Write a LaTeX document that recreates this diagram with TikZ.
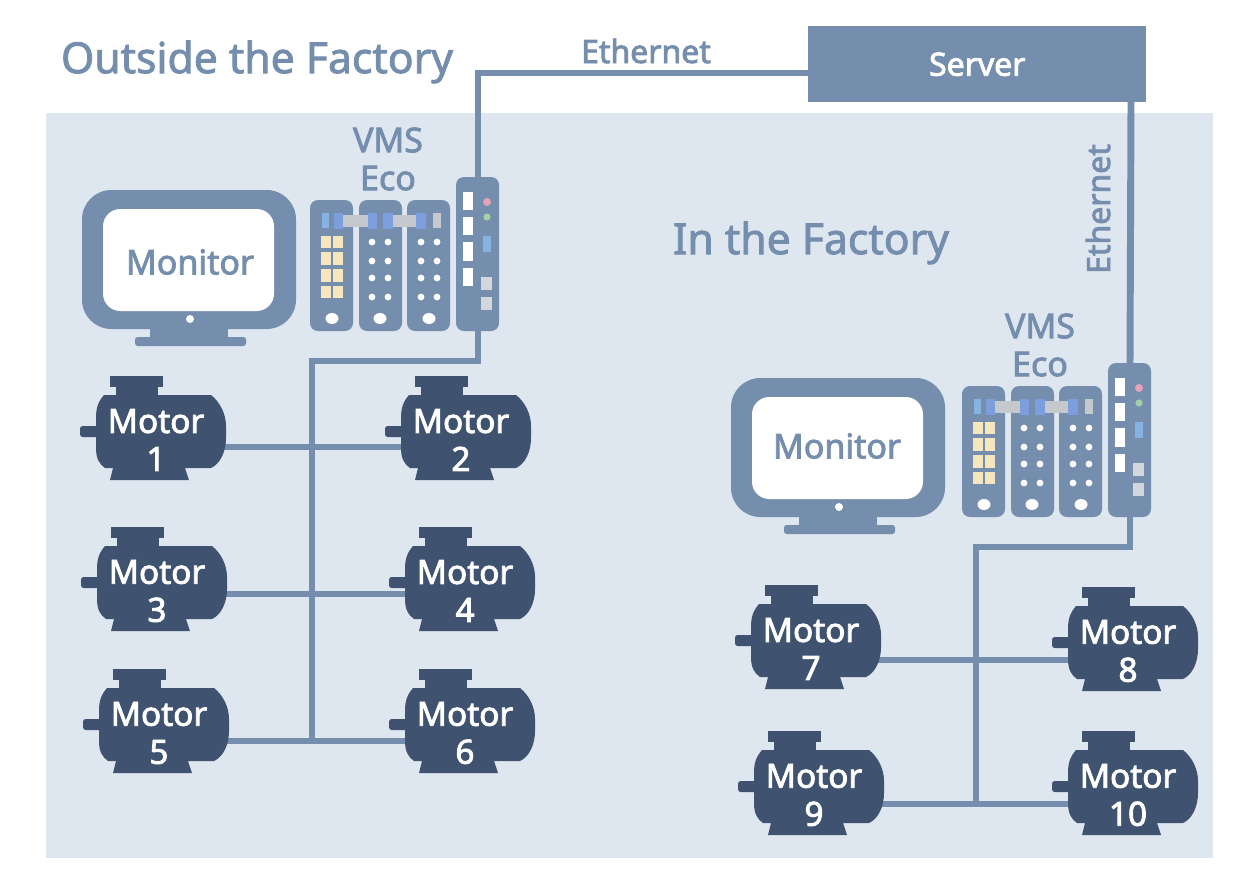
\documentclass[tikz,border=0pt]{standalone}
\usepackage{fontspec}
\setmainfont{Noto Sans}
\usetikzlibrary{calc}
\definecolor{panelc}{HTML}{DEE6F0}
\definecolor{steel}{HTML}{758EAD}
\definecolor{motorc}{HTML}{3F5370}
\definecolor{lblue}{HTML}{87B3E2}
\definecolor{mblue}{HTML}{7D9EDD}
\definecolor{greyc}{HTML}{C5C9CE}
\definecolor{lgrey}{HTML}{D3D7DD}
\definecolor{creamc}{HTML}{F6E6BF}
\definecolor{pinkc}{HTML}{E6A2B6}
\definecolor{greenc}{HTML}{A3D1A6}
\pgfdeclarelayer{panel}
\pgfdeclarelayer{wires}
\pgfsetlayers{panel,wires,main}
\tikzset{
  wire/.style={draw=steel,line width=5.2pt,line join=miter},
  medium/.style={execute at begin node={\special{pdf:code 2 Tr 0.62 w}},execute at end node={\special{pdf:code 0 Tr}}},
  titletext/.style={medium,text=steel,inner sep=0pt,font=\fontsize{#1}{#1}\selectfont},
  plainlabel/.style={medium,text=steel,inner sep=0pt,align=center,font=\fontsize{#1}{28.5}\selectfont},
  motortext/.style={medium,text=white,inner sep=0pt,align=center,font=\fontsize{25}{28.5}\selectfont},
  pics/motor/.style n args={2}{code={
    \fill[motorc,rounded corners=2pt] (0,50) rectangle (24,61);
    \fill[motorc] (30,0) rectangle (83,11);
    \fill[motorc] (36,11) rectangle (78,22);
    \fill[motorc] (24,19)
      .. controls (18,26) and (16,32) .. (16,42) -- (16,72)
      .. controls (16,82) and (19,88) .. (25,92)
      -- (33,92) -- (30,104) -- (109,104) -- (105,92) -- (131,92)
      .. controls (140,88) and (146,76) .. (146,62)
      -- (146,50) .. controls (146,38) and (140,26) .. (131,19) -- cycle;
    \coordinate (-l) at (30,#2);
    \coordinate (-r) at (140,#2);
    \node[motortext] (-t) at (76,64) {Motor\\#1};
  }},
  pics/monitor/.style n args={2}{code={
    \fill[steel,rounded corners=2pt] (135,337) rectangle (246,346);
    \fill[steel] (150,325) rectangle (228,346);
    \fill[steel,rounded corners=22pt] (82,190) rectangle (296,329);
    \fill[white,rounded corners=13pt] (103,209) rectangle (274,311);
    \fill[white] (190,319) circle[radius=4];
    \node[titletext=25.5] (-t) at (#1,#2) {Monitor};
  }},
  pics/vms/.style={code={
    \fill[steel,rounded corners=6pt] (310,200) rectangle (353,331);
    \fill[steel,rounded corners=6pt] (359,200) rectangle (402,331);
    \fill[steel,rounded corners=6pt] (407,200) rectangle (450,331);
    \fill[steel,rounded corners=6pt] (456,177) rectangle (499,331);
    \fill[lblue] (322,213) rectangle (329,228);
    \fill[mblue] (334,213) rectangle (343,229);
    \fill[mblue] (368,213) rectangle (377,229);
    \fill[mblue] (383,213) rectangle (393,229);
    \fill[mblue] (416,213) rectangle (426,229);
    \fill[greyc] (343,215) rectangle (368,227);
    \fill[greyc] (393,215) rectangle (416,227);
    \fill[greyc] (433,213) rectangle (441,228);
    \foreach \cx in {321,333} \foreach \ry/\rb in {236/248,252/265,269/282,286/298}
      \fill[creamc] (\cx,\ry) rectangle (\cx+10,\rb);
    \foreach \cx in {372,388,421,437} \foreach \ry in {242,261,278,297}
      \fill[white] (\cx,\ry) circle[radius=3.4];
    \foreach \cx in {332,380,429}
      \fill[white] (\cx,318.5) ellipse[x radius=6.5,y radius=5.5];
    \foreach \ry/\rb in {192/210,217/235,242/261,268/286}
      \fill[white] (463,\ry) rectangle (473,\rb);
    \fill[pinkc] (487,202) circle[radius=4];
    \fill[greenc] (487,217) circle[radius=3.6];
    \fill[lblue] (483,236) rectangle (491,252);
    \fill[lgrey] (481,277) rectangle (492,290);
    \fill[lgrey] (481,297) rectangle (492,310);
    \coordinate (-top) at (478,177);
    \coordinate (-bot) at (478,331);
    \node[plainlabel=25.5] (-t) at (388,159) {VMS\\Eco};
  }}
}
\begin{document}
\begin{tikzpicture}[x=0.75pt,y=-0.75pt]
\useasboundingbox (0,0) rectangle (1252,871);
\begin{pgfonlayer}{panel}
\fill[white] (0,0) rectangle (1252,871);
\fill[panelc] (46,113) rectangle (1213,858);
\end{pgfonlayer}

\node[medium,fill=steel,minimum width=253.5pt,minimum height=57pt,inner sep=0pt,anchor=north west,text=white,font=\fontsize{24}{28}\selectfont] (server) at (808,26) {Server};
\node[titletext=32,anchor=center] (outside) at (257,62) {Outside the Factory};
\node[titletext=32,anchor=center] (inside) at (811,243) {In the Factory};
\node[titletext=24] (eth1) at (646,51) {Ethernet};
\node[titletext=24,rotate=90] (eth2) at (1098,209) {Ethernet};

\pic (monA) at (0,0) {monitor={190}{262}};
\pic (monB) at (649,188) {monitor={188}{258}};
\pic (vmsA) at (0,0) {vms};
\pic (vmsB) at (652,186) {vms};

\pic (m1) at (80,376) {motor={1}{71}};
\pic (m2) at (385,376) {motor={2}{71}};
\pic (m3) at (81,527) {motor={3}{67}};
\pic (m4) at (389,527) {motor={4}{67}};
\pic (m5) at (83,669) {motor={5}{72}};
\pic (m6) at (389,669) {motor={6}{72}};
\pic (m7) at (735,585) {motor={7}{75}};
\pic (m8) at (1052,587) {motor={8}{73}};
\pic (m9) at (738,731) {motor={9}{73}};
\pic (m10) at (1052,731) {motor={10}{73}};

\coordinate (srvL) at (808,73);
\coordinate (srvB) at (1131,102);
\coordinate (busA) at (312,361);
\coordinate (busB) at (976,547);

\begin{pgfonlayer}{wires}
\draw[wire] (srvL) -| (vmsA-top);
\draw[wire] (vmsA-top) -- (vmsA-bot);
\draw[wire] (vmsA-bot) |- (busA) -- (m5-r -| busA);
\draw[wire] (m1-r) -- (m2-l);
\draw[wire] (m3-r) -- (m4-l);
\draw[wire] (m5-r) -- (m6-l);
\draw[wire] (srvB) -- (vmsB-top);
\draw[wire] (vmsB-top) -- (vmsB-bot);
\draw[wire] (vmsB-bot) |- (busB) -- (m9-r -| busB);
\draw[wire] (m7-r) -- (m8-l);
\draw[wire] (m9-r) -- (m10-l);
\end{pgfonlayer}
\end{tikzpicture}
\end{document}
